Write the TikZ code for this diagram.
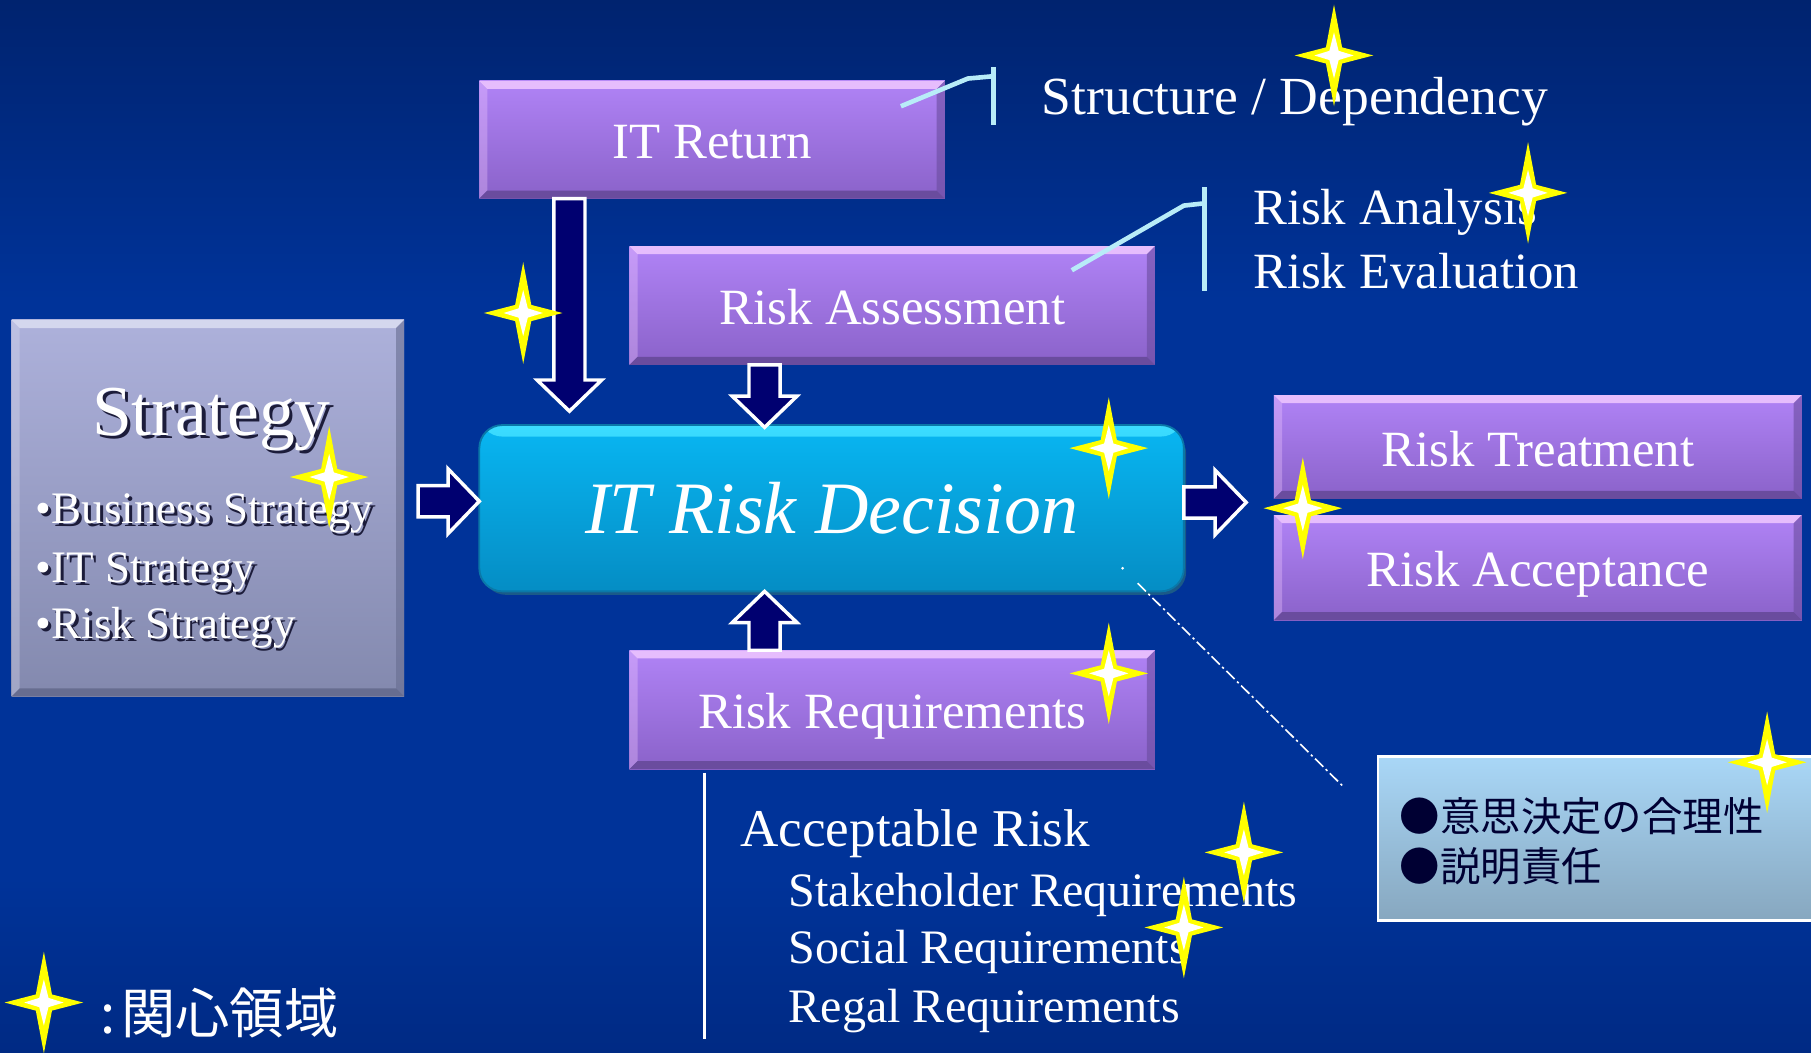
\documentclass[tikz,border=0pt]{standalone}
\usepackage{fontspec}
\setmainfont{Liberation Serif}
\newfontfamily\jpfont{Noto Sans CJK JP}
\usetikzlibrary{calc}
\definecolor{bgtop}{HTML}{00236F}
\definecolor{bgmid}{HTML}{003399}
\definecolor{bgbot}{HTML}{002A84}
\definecolor{ptop}{HTML}{B083F6}
\definecolor{pbot}{HTML}{8A62C9}
\definecolor{pedgeT}{HTML}{F0C8FF}
\definecolor{pedgeB}{HTML}{6A4C9E}
\definecolor{dtop}{HTML}{08B6F2}
\definecolor{dbot}{HTML}{058DC4}
\definecolor{dhi}{HTML}{3CDCFF}
\definecolor{dedge}{HTML}{0A78A8}
\definecolor{dshadow}{HTML}{1A5A88}
\definecolor{stop}{HTML}{ADB1DB}
\definecolor{sbot}{HTML}{8389AE}
\definecolor{sedgeT}{HTML}{DCDEF2}
\definecolor{sedgeB}{HTML}{676D90}
\definecolor{jtop}{HTML}{A9D7F7}
\definecolor{jbot}{HTML}{87A7BF}
\definecolor{navyA}{HTML}{000070}
\definecolor{calloutC}{HTML}{B8ECF8}
\definecolor{starY}{HTML}{FFFF00}
\definecolor{jptext}{HTML}{000033}
\definecolor{sshadow}{HTML}{1C1C3A}
\newcommand\blockarr[2]{%
  \coordinate (bh) at ($(#2)!13.5pt!(#1)$);
  \filldraw[barrow] ($(#1)!6.75pt!90:(#2)$) -- ($(bh)!6.75pt!90:(#2)$) -- ($(bh)!14pt!90:(#2)$) -- (#2)
    -- ($(bh)!14pt!-90:(#2)$) -- ($(bh)!6.75pt!-90:(#2)$) -- ($(#1)!6.75pt!-90:(#2)$) -- cycle;}
\tikzset{
  bevel/.style n args={2}{path picture={
    \coordinate (bnw) at (path picture bounding box.north west);
    \coordinate (bne) at (path picture bounding box.north east);
    \coordinate (bsw) at (path picture bounding box.south west);
    \coordinate (bse) at (path picture bounding box.south east);
    \fill[#1, opacity=0.85] (bnw) -- (bne) -- ($(bne)+(-7,7)$) -- ($(bnw)+(7,7)$) -- cycle;
    \fill[#1, opacity=0.35] (bnw) -- ($(bnw)+(7,7)$) -- ($(bsw)+(7,-7)$) -- (bsw) -- cycle;
    \fill[#2] (bsw) -- (bse) -- ($(bse)+(-7,-7)$) -- ($(bsw)+(7,-7)$) -- cycle;
    \fill[#2, opacity=0.6] (bne) -- (bse) -- ($(bse)+(-7,-7)$) -- ($(bne)+(-7,7)$) -- cycle;
  }},
  pbox/.style={top color=ptop, bottom color=pbot, bevel={pedgeT}{pedgeB}, text=white,
    font=\fontsize{22}{26}\selectfont, text height=16.5pt, text depth=0pt},
  barrow/.style={fill=navyA, draw=white, line width=1.5pt, line join=miter},
  callout/.style={draw=calloutC, line width=2pt},
  wtxt/.style={text=white, font=\fontsize{22}{26}\selectfont},
  subtxt/.style={text=white, font=\fontsize{20.8}{25}\selectfont},
  sttxt/.style={font=\fontsize{19.5}{24}\selectfont},
  sparkle/.pic={
    \fill[starY] (0,-44) -- (7,-7) -- (34,0) -- (7,7) -- (0,44) -- (-7,7) -- (-34,0) -- (-7,-7) -- cycle;
    \fill[white] (0,-20) -- (4,-4) -- (17,0) -- (4,4) -- (0,20) -- (-4,4) -- (-17,0) -- (-4,-4) -- cycle;
  }
}
\begin{document}
\begin{tikzpicture}[x=0.5pt,y=-0.5pt, every node/.style={inner sep=0pt, outer sep=0pt}]
\useasboundingbox (0,0) rectangle (1568,911);
% background
\fill[bgmid] (0,0) rectangle (1568,911);
\shade[top color=bgtop, bottom color=bgmid] (0,0) rectangle (1568,260);
\shade[top color=bgmid, bottom color=bgbot] (0,760) rectangle (1568,911);

% boxes
\node[pbox, minimum width=201.5pt, minimum height=51pt] (itr) at (616.5,121) {IT Return};
\node[pbox, minimum width=227.5pt, minimum height=51.5pt] (ra) at (772.5,264.5) {Risk Assessment};
\node[pbox, minimum width=227.5pt, minimum height=51.5pt] (rr) at (772.5,614.5) {Risk Requirements};
\node[pbox, minimum width=228.5pt, minimum height=45pt] (rt) at (1331.5,387) {Risk Treatment};
\node[pbox, minimum width=228.5pt, minimum height=45.5pt] (rac) at (1331.5,491.5) {Risk Acceptance};

\fill[dshadow, rounded corners=10pt] (418,373) rectangle (1027,515);
\node[top color=dtop, bottom color=dbot, rounded corners=10pt, draw=dedge, line width=0.8pt,
  minimum width=305pt, minimum height=72pt,
  path picture={\shade[top color=dhi, bottom color=dtop]
     (path picture bounding box.north west) rectangle ($(path picture bounding box.north east)+(0,10)$);},
  text=white, font=\itshape\fontsize{32}{38}\selectfont] (dec) at (720,440) {IT Risk Decision};

\node[top color=stop, bottom color=sbot, bevel={sedgeT}{sedgeB}, minimum width=170pt, minimum height=163pt] (strat) at (180,440) {};
\node[top color=jtop, bottom color=jbot, draw=white, line width=1pt, minimum width=188.5pt, minimum height=71pt] (jp) at (1381.5,726) {};

% strategy text with shadow
\node[anchor=base, text=sshadow, font=\fontsize{31}{36}\selectfont] (stitlesh) at (186,380) {Strategy};
\node[anchor=base, text=white, font=\fontsize{31}{36}\selectfont] (stitle) at (183,377) {Strategy};
\node[sttxt, anchor=base west, text=sshadow] (b1s) at (33.5,455.5) {•Business Strategy};
\node[sttxt, anchor=base west, text=white] (b1) at (31,453) {•Business Strategy};
\node[sttxt, anchor=base west, text=sshadow] (b2s) at (33.5,506.5) {•IT Strategy};
\node[sttxt, anchor=base west, text=white] (b2) at (31,504) {•IT Strategy};
\node[sttxt, anchor=base west, text=sshadow] (b3s) at (33.5,555.5) {•Risk Strategy};
\node[sttxt, anchor=base west, text=white] (b3) at (31,553) {•Risk Strategy};

% japanese box text
\node[anchor=west, text=jptext, font=\jpfont\fontsize{17.5}{21}\selectfont] (jp1) at (1212,707) {●意思決定の合理性};
\node[anchor=west, text=jptext, font=\jpfont\fontsize{17.5}{21}\selectfont] (jp2) at (1212,750) {●説明責任};

% side texts
\node[text=white, font=\fontsize{23.2}{27}\selectfont, anchor=base west] (sd) at (902,99) {Structure / Dependency};
\node[wtxt, anchor=base west] (ran) at (1085,194) {Risk Analysis};
\node[wtxt, anchor=base west] (rev) at (1085,250) {Risk Evaluation};
\node[text=white, font=\fontsize{23}{27}\selectfont, anchor=base west] (acc) at (641,733) {Acceptable Risk};
\node[subtxt, anchor=base west] (sh) at (683,785) {Stakeholder Requirements};
\node[subtxt, anchor=base west] (so) at (683,834) {Social Requirements};
\node[subtxt, anchor=base west] (rg) at (683,885) {Regal Requirements};
\node[anchor=west, text=white, font=\jpfont\fontsize{23.5}{27}\selectfont] (leg) at (87,877) {:\hspace{2.5pt}関心領域};

% callouts
\draw[callout] ($(itr.north east)+(-38,22)$) -- ($(itr.north east)+(20,-2)$) -- ($(itr.north east)+(42,-4)$);
\draw[callout] ($(itr.north east)+(42,-12)$) -- ($(itr.north east)+(42,38)$);
\draw[callout] ($(ra.north east)+(-72,21)$) -- ($(ra.north east)+(25,-35)$) -- ($(ra.north east)+(43,-37)$);
\draw[callout] ($(ra.north east)+(43,-51)$) -- ($(ra.north east)+(43,39)$);

% requirement bar
\draw[white, line width=1.5pt] ($(rr.south west)+(65,3)$) -- ($(rr.south west)+(65,234)$);

% dashed line to jp box
\fill[white] ($(dec.south east)+(-53,-20)$) circle (1.3);
\draw[white, line width=0.7pt, dash pattern=on 5pt off 1.5pt on 1pt off 1.5pt]
  ($(dec.south east)+(-40,-7)$) -- ($(jp.north west)+(-30,26)$);

% block arrows
\coordinate (a1s) at ($(itr.south west)+(78,0)$);
\coordinate (a1e) at ($(a1s |- dec.north)+(0,-12)$);
\blockarr{a1s}{a1e}
\coordinate (a2s) at ($(ra.south west)+(117,0)$);
\coordinate (a2e) at ($(a2s |- dec.north)+(0,2)$);
\blockarr{a2s}{a2e}
\coordinate (a3s) at ($(rr.north west)+(117,0)$);
\coordinate (a3e) at (a3s |- dec.south);
\blockarr{a3s}{a3e}
\coordinate (a4e) at ($(dec.west)+(0,-6)$);
\coordinate (a4s) at ($(strat.east |- a4e)+(12,0)$);
\blockarr{a4s}{a4e}
\coordinate (a5s) at ($(dec.east)+(0,-5)$);
\coordinate (a5e) at ($(rt.west |- a5s)+(-24,0)$);
\blockarr{a5s}{a5e}

% stars
\pic at (1155,48) {sparkle};
\pic at (1323,167) {sparkle};
\pic at (453,271) {sparkle};
\pic at (285,413) {sparkle};
\pic at (960,388) {sparkle};
\pic at (1128,440) {sparkle};
\pic at (960,583) {sparkle};
\pic at (1530,660) {sparkle};
\pic at (1077,738) {sparkle};
\pic at (1025,803) {sparkle};
\pic at (38,868) {sparkle};
\end{tikzpicture}
\end{document}
